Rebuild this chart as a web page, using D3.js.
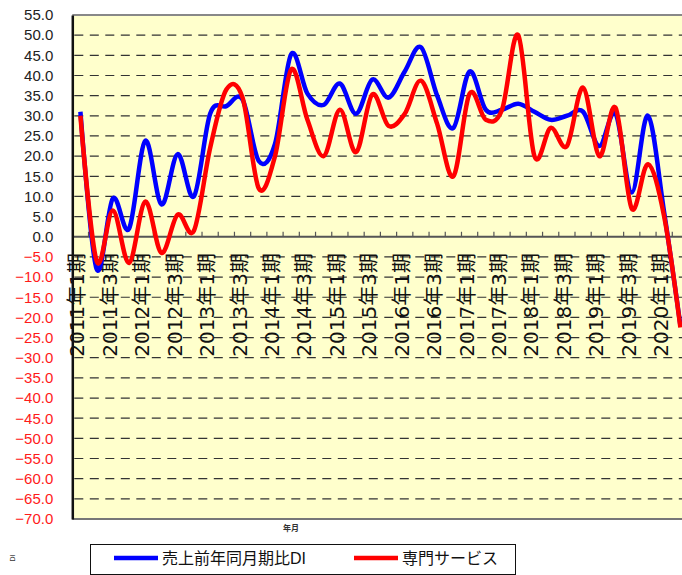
<!DOCTYPE html>
<html lang='ja'>
	<head>
		<meta charset='utf-8'>
		<title>売上前年同月期比DI</title>
		<script type='text/javascript' src='https://cdn.jsdelivr.net/npm/d3@7/dist/d3.min.js'></script>
		<style>
			body { margin: 0; background: #fff; }
			svg { display: block; font-family: 'Liberation Sans', 'Noto Sans CJK JP', sans-serif; }
			g.grid line { stroke: #333; stroke-width: 1.2px; stroke-dasharray: 9,6.5; }
		</style>
	</head>
	<body>
		<script type='text/javascript'>
			var categories = [
				'2011年1期','2011年2期','2011年3期','2011年4期',
				'2012年1期','2012年2期','2012年3期','2012年4期',
				'2013年1期','2013年2期','2013年3期','2013年4期',
				'2014年1期','2014年2期','2014年3期','2014年4期',
				'2015年1期','2015年2期','2015年3期','2015年4期',
				'2016年1期','2016年2期','2016年3期','2016年4期',
				'2017年1期','2017年2期','2017年3期','2017年4期',
				'2018年1期','2018年2期','2018年3期','2018年4期',
				'2019年1期','2019年2期','2019年3期','2019年4期',
				'2020年1期','2020年2期'
			];
			var tickLabels = categories.filter(function(d){ return /年[13]期$/.test(d); });

			var seriesNames = ['売上前年同月期比DI', '専門サービス'];
			var seriesColors = ['#0000ff', '#ff0000'];

			var salesDI = [31, -8, 9.5, 2, 23.8, 8, 20.5, 10, 30.5, 32.4,
				34, 18.8, 23, 45.3, 35.5, 32.7, 38, 30.5, 39, 34.5,
				41, 47, 35, 27, 41, 31.5, 31.5, 33, 31, 29,
				30, 31, 22.5, 30.5, 11, 30, 6, -22];
			var services = [30, -6, 6.5, -6.5, 8.7, -4, 5.5, 1.5, 22, 36.5,
				34.5, 12, 20, 41.5, 29, 20, 31.5, 21, 35.3, 27.5,
				30.5, 38.7, 28, 15, 35.5, 29, 31.5, 50, 20, 27,
				22.5, 37, 20, 32, 7, 18, 5, -22.5];

			var yTicks = d3.range(-70, 56, 5);

			var width = 682, height = 575;
			var plotLeft = 72.3, plotRight = 688.5, plotTop = 15, plotBottom = 519;

			var svg = d3.select('body').append('svg')
				.attr('width', width)
				.attr('height', height);

			var x = d3.scaleBand().domain(categories).range([plotLeft, plotRight]).padding(0);
			var y = d3.scaleLinear().domain([-70, 55]).range([plotBottom, plotTop]);
			function cx(d){ return x(d) + x.bandwidth() / 2; }

			// plot area
			svg.append('rect')
				.attr('x', plotLeft).attr('y', plotTop)
				.attr('width', plotRight - plotLeft).attr('height', plotBottom - plotTop)
				.attr('fill', '#ffffcc');

			svg.append('g').attr('class', 'grid')
				.selectAll('line')
				.data(yTicks.filter(function(v){ return v !== 0 && v !== -70 && v !== 55; }))
				.enter().append('line')
					.attr('x1', plotLeft + 2).attr('x2', plotRight)
					.attr('y1', function(v){ return y(v); })
					.attr('y2', function(v){ return y(v); });

			// borders
			svg.append('line').attr('x1', plotLeft).attr('x2', plotRight)
				.attr('y1', plotTop).attr('y2', plotTop)
				.attr('stroke', '#888').attr('stroke-width', 2);
			svg.append('line').attr('x1', plotLeft).attr('x2', plotRight)
				.attr('y1', plotBottom).attr('y2', plotBottom)
				.attr('stroke', '#777').attr('stroke-width', 2);

			// zero line with ticks
			svg.append('line').attr('x1', plotLeft).attr('x2', plotRight)
				.attr('y1', y(0)).attr('y2', y(0))
				.attr('stroke', '#555').attr('stroke-width', 2);
			svg.append('g')
				.selectAll('line')
				.data(d3.range(1, categories.length))
				.enter().append('line')
					.attr('x1', function(k){ return plotLeft + k * x.step(); })
					.attr('x2', function(k){ return plotLeft + k * x.step(); })
					.attr('y1', y(0)).attr('y2', y(0) - 5)
					.attr('stroke', '#555').attr('stroke-width', 1.2);

			// x labels
			svg.append('g')
				.selectAll('text')
				.data(tickLabels)
				.enter().append('text')
					.attr('transform', function(d){ return 'translate(' + (cx(d) - 3) + ',253) rotate(-90)'; })
					.attr('text-anchor', 'end')
					.attr('dominant-baseline', 'central')
					.attr('font-family', "'DejaVu Sans', 'Noto Sans CJK JP', sans-serif")
					.attr('font-size', 20)
					.attr('fill', '#111')
					.text(function(d){ return d; });

			// lines
			var line = d3.line()
				.x(function(d, i){ return cx(categories[i]); })
				.y(function(d){ return y(d); })
				.curve(d3.curveCardinal.tension(0));

			[salesDI, services].forEach(function(s, k){
				svg.append('path')
					.datum(s)
					.attr('d', line)
					.attr('fill', 'none')
					.attr('stroke', seriesColors[k])
					.attr('stroke-width', 4.5)
					.attr('stroke-linejoin', 'round');
			});

			// y axis
			var yAxis = svg.append('g')
				.attr('transform', 'translate(' + plotLeft + ',0)')
				.call(d3.axisLeft(y).tickValues(yTicks).tickFormat(d3.format('.1f')).tickSize(0).tickSizeOuter(0).tickPadding(19));
			yAxis.select('.domain').attr('stroke', '#111').attr('stroke-width', 2.5);
			yAxis.selectAll('text')
				.attr('font-size', 15)
				.attr('font-family', "'Liberation Sans', sans-serif")
				.attr('fill', function(v){ return v < 0 ? '#ff1a1a' : '#222'; });

			// axis titles
			svg.append('text')
				.attr('x', 291).attr('y', 531)
				.attr('text-anchor', 'middle')
				.attr('font-size', 8).attr('font-weight', 'bold')
				.attr('fill', '#333')
				.text('年月');
			svg.append('text')
				.attr('transform', 'translate(12,558) rotate(-90)')
				.attr('text-anchor', 'middle')
				.attr('dominant-baseline', 'central')
				.attr('font-size', 7)
				.attr('fill', '#333')
				.text('DI');

			// legend
			var legend = svg.append('g');
			legend.append('rect')
				.attr('x', 90.5).attr('y', 544.5)
				.attr('width', 425).attr('height', 30)
				.attr('fill', '#fff').attr('stroke', '#111').attr('stroke-width', 1);
			var legendX = [114, 354];
			seriesNames.forEach(function(name, k){
				legend.append('line')
					.attr('x1', legendX[k]).attr('x2', legendX[k] + 44)
					.attr('y1', 558).attr('y2', 558)
					.attr('stroke', seriesColors[k]).attr('stroke-width', 4.5);
				legend.append('text')
					.attr('x', legendX[k] + 48).attr('y', 564)
					.attr('font-size', 16)
					.attr('fill', '#111')
					.text(name);
			});
		</script>
	</body>
</html>
